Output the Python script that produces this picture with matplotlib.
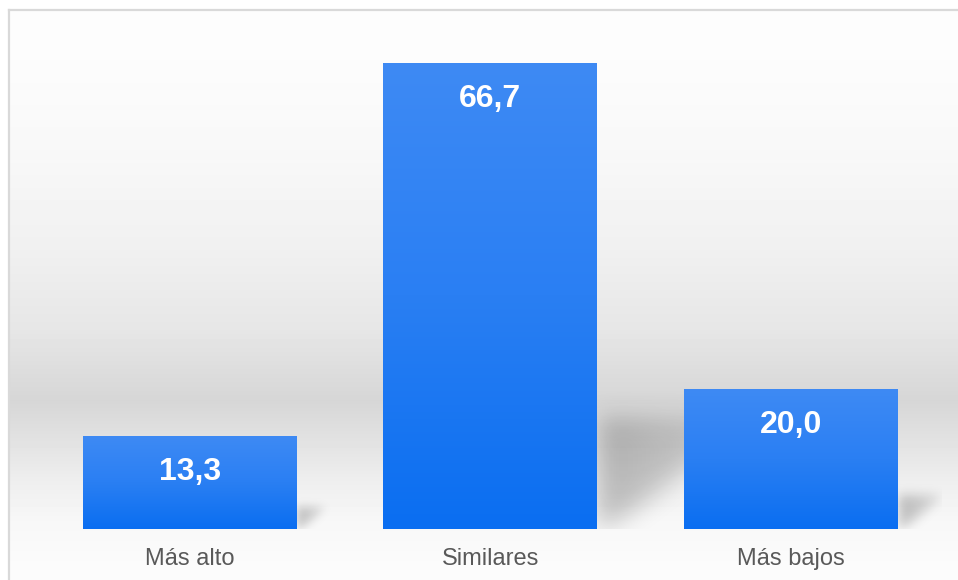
import numpy as np
import matplotlib.pyplot as plt
from matplotlib.colors import LinearSegmentedColormap
from matplotlib.lines import Line2D

categories = ["Más alto", "Similares", "Más bajos"]
values = [13.3, 66.7, 20.0]
value_labels = ["13,3", "66,7", "20,0"]

W, H = 958, 580
fig = plt.figure(figsize=(W / 100, H / 100), dpi=100)
fig.patch.set_facecolor("white")

# soft grey band behind the plot
bg = fig.add_axes([9 / W, 0, 1 - 9 / W, (H - 10) / H])
stops_y = [10, 60, 150, 250, 330, 400, 440, 480, 520, 560, 580]
stops_g = [253, 252, 248, 240, 230, 214, 226, 238, 247, 251, 252]
rows = np.interp(np.arange(10, H), stops_y, stops_g)
bg.imshow(np.repeat(rows[:, None], W, axis=1), cmap="gray", vmin=0, vmax=255,
          aspect="auto", extent=[0, 1, 0, 1], interpolation="none")
bg.axis("off")

fig.add_artist(Line2D([9 / W, 1], [1 - 10 / H] * 2, color="#d9d9d9", lw=1.6))
fig.add_artist(Line2D([9 / W] * 2, [0, 1 - 10 / H], color="#d9d9d9", lw=1.6))

ax = fig.add_axes([39.5 / W, (H - 529) / H, 901.5 / W, (529 - 11) / H])
ax.set_xlim(-0.5, 2.5)
ax.set_ylim(0, 74.14)
ax.patch.set_alpha(0)
ax.axis("off")

x = np.arange(len(values))
width = 0.712
bars = ax.bar(x, values, width=width, color="none", zorder=3)

bar_cmap = LinearSegmentedColormap.from_list("bar", ["#0a6ef1", "#2a7ff3", "#3e8af4"])
grad = np.linspace(0, 1, 256)[:, None]
for b in bars:
    x0, y0 = b.get_x(), b.get_y()
    im = ax.imshow(grad, cmap=bar_cmap, origin="lower", aspect="auto",
                   extent=[x0, x0 + b.get_width(), y0, y0 + b.get_height()],
                   zorder=3, interpolation="bilinear")
    im.set_clip_path(b)

# blurred cast shadows to the right of each bar
nx, ny = 902, 518
sx = nx / 3.0
sy = ny / 74.14
Xp, Yp = np.meshgrid(np.arange(nx) + 0.5, np.arange(ny) + 0.5)
alpha = np.zeros((ny, nx))


def blur(a, sigma):
    r = int(3 * sigma)
    k = np.exp(-0.5 * (np.arange(-r, r + 1) / sigma) ** 2)
    k /= k.sum()
    a = np.apply_along_axis(lambda v: np.convolve(v, k, mode="same"), 1, a)
    return np.apply_along_axis(lambda v: np.convolve(v, k, mode="same"), 0, a)


for xi, v in zip(x, values):
    right = (xi + width / 2 + 0.5) * sx
    hs = 0.24 * v * sy
    d = 1.3 * hs
    dx = Xp - right
    m = (dx >= 0) & (Yp <= hs) & (dx <= d * (Yp / hs) ** 0.8)
    shade = np.where(m, 0.24 * (1 - 0.55 * np.clip(dx / d, 0, 1)), 0.0)
    alpha += blur(shade, 3 + 0.08 * hs)

rgba = np.zeros((ny, nx, 4))
rgba[..., 3] = np.clip(alpha, 0, 1)
ax.imshow(rgba, origin="lower", aspect="auto", extent=[-0.5, 2.5, 0, 74.14],
          zorder=2, interpolation="bilinear")
ax.set_xlim(-0.5, 2.5)
ax.set_ylim(0, 74.14)

for xi, v, lab, cat in zip(x, values, value_labels, categories):
    ax.annotate(lab, (xi, v), xytext=(0, -44 * 0.72), textcoords="offset points",
                ha="center", va="baseline", color="white", fontsize=23,
                fontweight="bold", family="Liberation Sans", zorder=5)
    ax.annotate(cat, (xi, 0), xytext=(0, -36 * 0.72), textcoords="offset points",
                ha="center", va="baseline", color="#595959", fontsize=17,
                family="Liberation Sans", annotation_clip=False)

fig.savefig("out.png", dpi=100)
